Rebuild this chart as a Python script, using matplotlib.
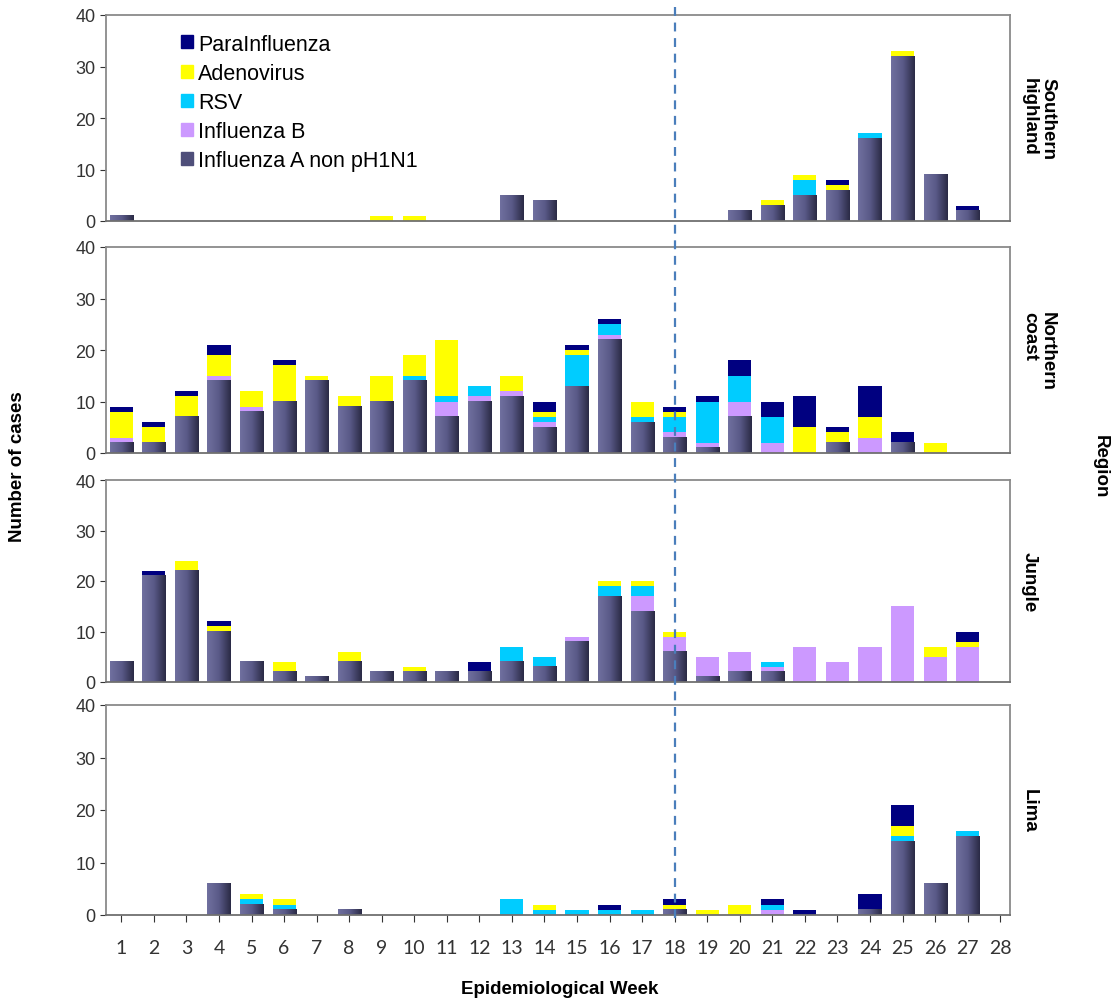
import numpy as np
import matplotlib
matplotlib.use("Agg")
import matplotlib.pyplot as plt
import matplotlib.transforms as mtransforms
from matplotlib.lines import Line2D
from matplotlib.patches import Patch
from matplotlib.colors import LinearSegmentedColormap

plt.rcParams['font.family'] = ['Liberation Sans', 'DejaVu Sans']

weeks = list(range(1, 29))
series = ["Influenza A non pH1N1", "Influenza B", "RSV", "Adenovirus", "ParaInfluenza"]
regions = ["Southern\nhighland", "Northern\ncoast", "Jungle", "Lima"]

# Southern highland
sh_fluA  = [1,0,0,0,0,0,0,0,0,0,0,0,5,4,0,0,0,0,0,2,3,5,6,16,32,9,2,0]
sh_fluB  = [0,0,0,0,0,0,0,0,0,0,0,0,0,0,0,0,0,0,0,0,0,0,0,0,0,0,0,0]
sh_rsv   = [0,0,0,0,0,0,0,0,0,0,0,0,0,0,0,0,0,0,0,0,0,3,0,1,0,0,0,0]
sh_adeno = [0,0,0,0,0,0,0,0,1,1,0,0,0,0,0,0,0,0,0,0,1,1,1,0,1,0,0,0]
sh_para  = [0,0,0,0,0,0,0,0,0,0,0,0,0,0,0,0,0,0,0,0,0,0,1,0,0,0,1,0]

# Northern coast
nc_fluA  = [2,2,7,14,8,10,14,9,10,14,7,10,11,5,13,22,6,3,1,7,0,0,2,0,2,0,0,0]
nc_fluB  = [1,0,0,1,1,0,0,0,0,0,3,1,1,1,0,1,0,1,1,3,2,0,0,3,0,0,0,0]
nc_rsv   = [0,0,0,0,0,0,0,0,0,1,1,2,0,1,6,2,1,3,8,5,5,0,0,0,0,0,0,0]
nc_adeno = [5,3,4,4,3,7,1,2,5,4,11,0,3,1,1,0,3,1,0,0,0,5,2,4,0,2,0,0]
nc_para  = [1,1,1,2,0,1,0,0,0,0,0,0,0,2,1,1,0,1,1,3,3,6,1,6,2,0,0,0]

# Jungle
ju_fluA  = [4,21,22,10,4,2,1,4,2,2,2,2,4,3,8,17,14,6,1,2,2,0,0,0,0,0,0,0]
ju_fluB  = [0,0,0,0,0,0,0,0,0,0,0,0,0,0,1,0,3,3,4,4,1,7,4,7,15,5,7,0]
ju_rsv   = [0,0,0,0,0,0,0,0,0,0,0,0,3,2,0,2,2,0,0,0,1,0,0,0,0,0,0,0]
ju_adeno = [0,0,2,1,0,2,0,2,0,1,0,0,0,0,0,1,1,1,0,0,0,0,0,0,0,2,1,0]
ju_para  = [0,1,0,1,0,0,0,0,0,0,0,2,0,0,0,0,0,0,0,0,0,0,0,0,0,0,2,0]

# Lima
li_fluA  = [0,0,0,6,2,1,0,1,0,0,0,0,0,0,0,0,0,1,0,0,0,0,0,1,14,6,15,0]
li_fluB  = [0,0,0,0,0,0,0,0,0,0,0,0,0,0,0,0,0,0,0,0,1,0,0,0,0,0,0,0]
li_rsv   = [0,0,0,0,1,1,0,0,0,0,0,0,3,1,1,1,1,0,0,0,1,0,0,0,1,0,1,0]
li_adeno = [0,0,0,0,1,1,0,0,0,0,0,0,0,1,0,0,0,1,1,2,0,0,0,0,2,0,0,0]
li_para  = [0,0,0,0,0,0,0,0,0,0,0,0,0,0,0,1,0,1,0,0,1,1,0,3,4,0,0,0]

panels = [
    [sh_fluA, sh_fluB, sh_rsv, sh_adeno, sh_para],
    [nc_fluA, nc_fluB, nc_rsv, nc_adeno, nc_para],
    [ju_fluA, ju_fluB, ju_rsv, ju_adeno, ju_para],
    [li_fluA, li_fluB, li_rsv, li_adeno, li_para],
]

colors = ["#4f4f7a", "#cc99ff", "#00ccff", "#ffff00", "#000080"]
grad_cmap = LinearSegmentedColormap.from_list("bar", ["#70709f", "#5a5a88", "#2a2a45"])
grad = np.linspace(0, 1, 64).reshape(1, -1)

fig = plt.figure(figsize=(11.11, 10.04), dpi=100)

left, width = 106 / 1111, 904 / 1111
boxes = [(16, 222), (248, 454), (481, 683), (706, 916)]

axes = []
for i, (vals, reg) in enumerate(zip(panels, regions)):
    top, bot = boxes[i]
    ax = fig.add_axes([left, 1 - bot / 1004, width, (bot - top) / 1004])
    bottom = np.zeros(len(weeks))
    for j, (v, c) in enumerate(zip(vals, colors)):
        v = np.array(v, dtype=float)
        bars = ax.bar(weeks, v, width=0.71, bottom=bottom, color=c, linewidth=0, zorder=2)
        if j == 0:
            # horizontal shading like the original bars
            for r in bars:
                h = r.get_height()
                if h <= 0:
                    continue
                x0, y0, w = r.get_x(), r.get_y(), r.get_width()
                ax.imshow(grad, cmap=grad_cmap, aspect='auto', extent=(x0, x0 + w, y0, y0 + h),
                          zorder=2.1, interpolation='bilinear')
        bottom += v
    ax.set_xlim(0.53, 28.3)
    ax.set_ylim(0, 40)
    ax.set_yticks([0, 10, 20, 30, 40])
    ax.tick_params(axis='y', labelsize=13, colors='#333333', length=4, direction='out')
    for s in ax.spines.values():
        s.set_color('#8a8a8a')
        s.set_linewidth(1.3)
    ax.spines['bottom'].set_color('#707070')
    ax.text(1.012, 0.5, reg, transform=ax.transAxes, rotation=-90, ha='left', va='center',
            fontsize=13.5, fontweight='bold', linespacing=1.1)
    if i < 3:
        ax.set_xticks([])
    else:
        ax.set_xticks(weeks)
        ax.set_xticklabels([str(w) for w in weeks], family=['Lato', 'DejaVu Sans'])
        ax.tick_params(axis='x', labelsize=14, colors='#333333', length=5, pad=12)
    axes.append(ax)

# legend in top panel
handles = [Patch(color=colors[k]) for k in range(4, -1, -1)]
labels = [series[k] for k in range(4, -1, -1)]
axes[0].legend(handles, labels, loc='upper left', bbox_to_anchor=(0.083, 0.91), frameon=False,
               fontsize=15.5, handlelength=0.55, handleheight=0.55, handletextpad=0.25,
               labelspacing=0.38, borderaxespad=0, borderpad=0)

# dashed week-18 marker across all panels
tr = mtransforms.blended_transform_factory(axes[0].transData, fig.transFigure)
fig.add_artist(Line2D([18, 18], [1 - 8 / 1004, 1 - 920 / 1004], transform=tr,
                      color='#4a7ebb', linestyle=(0, (4, 3)), linewidth=1.6, zorder=5))

fig.text(18 / 1111, 0.535, "Number of cases", rotation=90, ha='center', va='center',
         fontsize=13.5, fontweight='bold')
fig.text(1100 / 1111, 0.535, "Region", rotation=-90, ha='center', va='center',
         fontsize=13.5, fontweight='bold')
fig.text(560 / 1111, 1 - 990 / 1004, "Epidemiological Week", ha='center', va='center',
         fontsize=13.5, fontweight='bold')

fig.savefig("out.png", dpi=100)
